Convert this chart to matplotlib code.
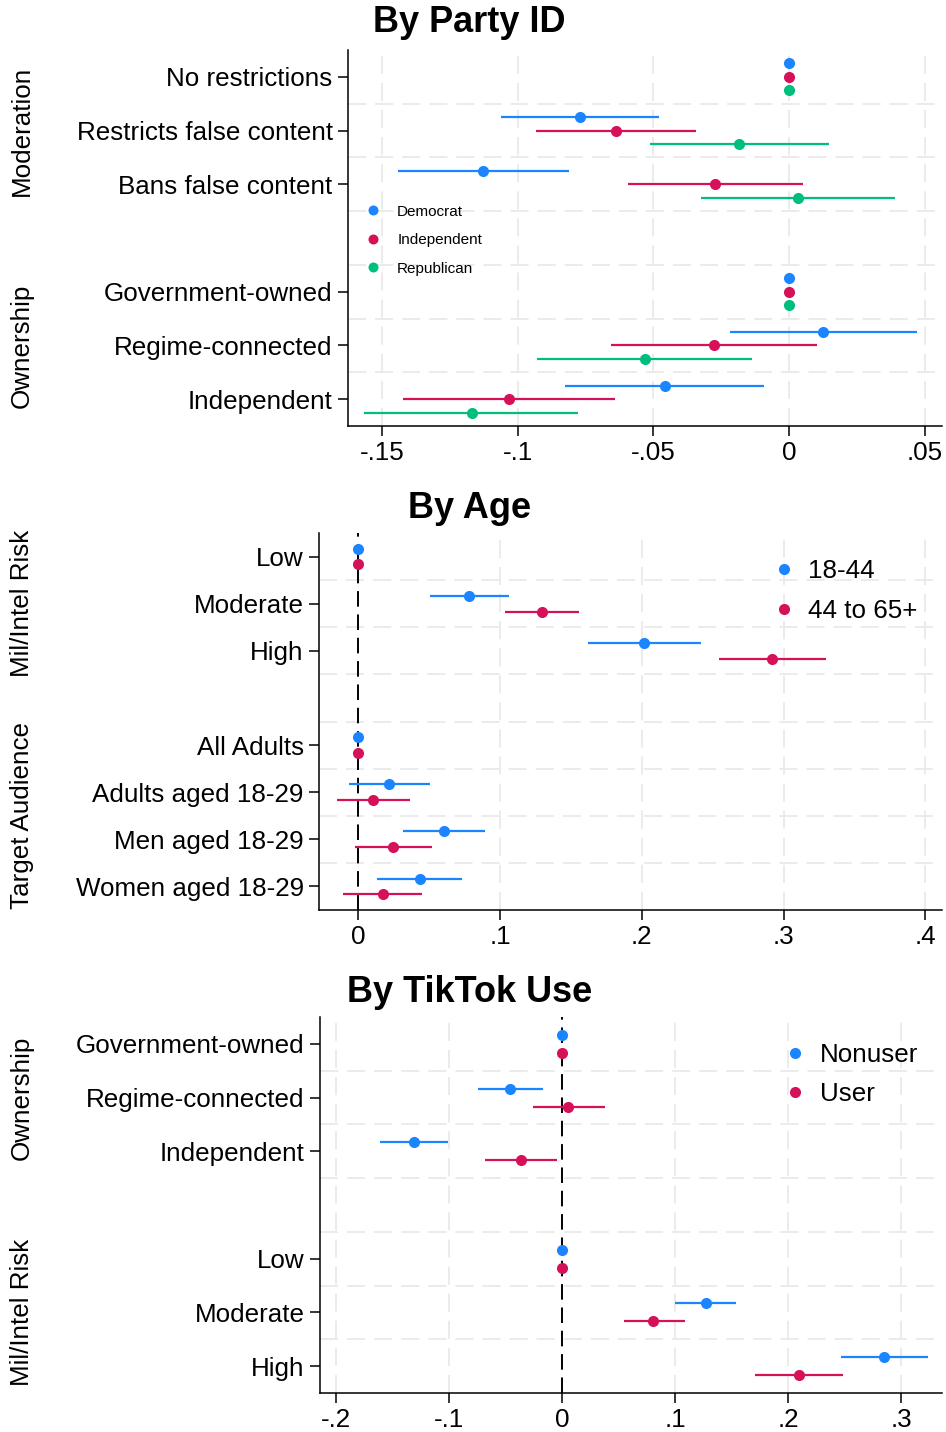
import matplotlib
matplotlib.use("Agg")
import matplotlib.pyplot as plt
from matplotlib.transforms import blended_transform_factory

plt.rcParams['font.family'] = ['Liberation Sans', 'DejaVu Sans']

BLUE = '#1A85FF'
RED = '#D41159'
GREEN = '#00BF7D'

# ---- By Party ID ----
party_groups = ["Moderation", "Ownership"]
party_rows = [["No restrictions", "Restricts false content", "Bans false content"],
              ["Government-owned", "Regime-connected", "Independent"]]
party_series = ["Democrat", "Independent", "Republican"]
dem_est = [0, -0.0772, -0.1128, 0, 0.0125, -0.0459]
dem_lo = [0, -0.1063, -0.1442, 0, -0.0218, -0.0827]
dem_hi = [0, -0.0479, -0.0810, 0, 0.0470, -0.0092]
ind_est = [0, -0.0638, -0.0272, 0, -0.0277, -0.1032]
ind_lo = [0, -0.0931, -0.0594, 0, -0.0656, -0.1424]
ind_hi = [0, -0.0344, 0.0052, 0, 0.0103, -0.0641]
rep_est = [0, -0.0185, 0.0032, 0, -0.0532, -0.1170]
rep_lo = [0, -0.0511, -0.0325, 0, -0.0928, -0.1566]
rep_hi = [0, 0.0145, 0.0389, 0, -0.0137, -0.0776]
party_xticks = [-0.15, -0.1, -0.05, 0, 0.05]
party_xlabels = ["-.15", "-.1", "-.05", "0", ".05"]

# ---- By Age ----
age_groups = ["Mil/Intel Risk", "Target Audience"]
age_rows = [["Low", "Moderate", "High"],
            ["All Adults", "Adults aged 18-29", "Men aged 18-29", "Women aged 18-29"]]
age_series = ["18-44", "44 to 65+"]
young_est = [0, 0.0782, 0.2017, 0, 0.0220, 0.0602, 0.0432]
young_lo = [0, 0.0506, 0.1619, 0, -0.0068, 0.0314, 0.0133]
young_hi = [0, 0.1065, 0.2418, 0, 0.0508, 0.0895, 0.0734]
old_est = [0, 0.1294, 0.2921, 0, 0.0107, 0.0246, 0.0172]
old_lo = [0, 0.1037, 0.2542, 0, -0.0153, -0.0023, -0.0107]
old_hi = [0, 0.1559, 0.3302, 0, 0.0367, 0.0517, 0.0452]
age_xticks = [0, 0.1, 0.2, 0.3, 0.4]
age_xlabels = ["0", ".1", ".2", ".3", ".4"]

# ---- By TikTok Use ----
tt_groups = ["Ownership", "Mil/Intel Risk"]
tt_rows = [["Government-owned", "Regime-connected", "Independent"],
           ["Low", "Moderate", "High"]]
tt_series = ["Nonuser", "User"]
non_est = [0, -0.0456, -0.1306, 0, 0.1270, 0.2850]
non_lo = [0, -0.0740, -0.1609, 0, 0.1000, 0.2466]
non_hi = [0, -0.0164, -0.1007, 0, 0.1537, 0.3235]
user_est = [0, 0.0057, -0.0363, 0, 0.0808, 0.2096]
user_lo = [0, -0.0256, -0.0680, 0, 0.0544, 0.1705]
user_hi = [0, 0.0377, -0.0046, 0, 0.1085, 0.2484]
tt_xticks = [-0.2, -0.1, 0, 0.1, 0.2, 0.3]
tt_xlabels = ["-.2", "-.1", "0", ".1", ".2", ".3"]

W, H = 946, 1432
FS = 18.7
fig = plt.figure(figsize=(W / 100, H / 100), dpi=100)


def px_axes(left, right, top, bottom):
    return fig.add_axes([left / W, 1 - bottom / H, (right - left) / W, (bottom - top) / H])


def panel(ax, groups, rows, series, colors, offs, xlim, xticks, xlabels, zero_line):
    # row positions: one empty slot between groups
    pos, labels, centers = [], [], []
    p = 1
    for g in rows:
        gp = []
        for r in g:
            pos.append(p)
            gp.append(p)
            labels.append(r)
            p += 1
        centers.append(sum(gp) / len(gp))
        p += 1
    n = p - 2
    ax.set_ylim(n + 0.5, 0.5)
    ax.set_xlim(*xlim)
    for k in range(1, n):
        ax.axhline(k + 0.5, color='#e9e9e9', lw=1.3, dashes=(10, 5), zorder=0)
    for t in xticks:
        if zero_line and t == 0:
            continue
        ax.axvline(t, color='#e9e9e9', lw=1.3, dashes=(10, 5), zorder=0)
    if zero_line:
        ax.axvline(0, color='black', lw=1.4, dashes=(8, 4), zorder=1)
    handles = []
    for (est, lo, hi), c, o in zip(series, colors, offs):
        ys = [y + o for y in pos]
        ax.hlines(ys, lo, hi, color=c, lw=1.6, zorder=2)
        h, = ax.plot(est, ys, 'o', color=c, ms=8, mec='none', zorder=3)
        handles.append(h)
    ax.set_yticks(pos)
    ax.set_yticklabels(labels, fontsize=FS)
    ax.set_xticks(xticks)
    ax.set_xticklabels(xlabels, fontsize=FS)
    ax.tick_params(axis='both', length=7, width=1.1, pad=4)
    for s in ['top', 'right']:
        ax.spines[s].set_visible(False)
    for s in ['left', 'bottom']:
        ax.spines[s].set_linewidth(1.1)
    tr = blended_transform_factory(fig.transFigure, ax.transData)
    for gname, cy in zip(groups, centers):
        ax.text(22 / W, cy, gname, transform=tr, rotation=90, ha='center',
                va='center', fontsize=FS)
    return handles


# top panel
ax1 = px_axes(348, 942, 50, 426)
h1 = panel(ax1, party_groups, party_rows,
           [(dem_est, dem_lo, dem_hi), (ind_est, ind_lo, ind_hi), (rep_est, rep_lo, rep_hi)],
           [BLUE, RED, GREEN], [-0.25, 0, 0.25], (-0.1625, 0.0563),
           party_xticks, party_xlabels, False)
ax1.legend(h1, party_series, loc='upper left', bbox_to_anchor=(361 / W, 1 - 197 / H),
           bbox_transform=fig.transFigure, frameon=False, fontsize=11, borderpad=0,
           handlelength=0.6, handletextpad=1.27, labelspacing=0.95, markerscale=0.9)

# middle panel
ax2 = px_axes(319, 942, 533, 910)
h2 = panel(ax2, age_groups, age_rows,
           [(young_est, young_lo, young_hi), (old_est, old_lo, old_hi)],
           [BLUE, RED], [-1 / 6, 1 / 6], (-0.0277, 0.4118),
           age_xticks, age_xlabels, True)
ax2.legend(h2, age_series, loc='upper left', bbox_to_anchor=(763 / W, 1 - 546 / H),
           bbox_transform=fig.transFigure, frameon=False, fontsize=FS, borderpad=0,
           handlelength=0.6, handletextpad=0.62, labelspacing=0.62, markerscale=1.0)

# bottom panel
ax3 = px_axes(320, 942, 1017, 1393)
h3 = panel(ax3, tt_groups, tt_rows,
           [(non_est, non_lo, non_hi), (user_est, user_lo, user_hi)],
           [BLUE, RED], [-1 / 6, 1 / 6], (-0.2141, 0.3361),
           tt_xticks, tt_xlabels, True)
ax3.legend(h3, tt_series, loc='upper left', bbox_to_anchor=(774 / W, 1 - 1030 / H),
           bbox_transform=fig.transFigure, frameon=False, fontsize=FS, borderpad=0,
           handlelength=0.6, handletextpad=0.66, labelspacing=0.58, markerscale=1.0)

for title, y in [("By Party ID", 22), ("By Age", 508), ("By TikTok Use", 992)]:
    fig.text(469.5 / W, 1 - y / H, title, ha='center', va='center',
             fontsize=26, fontweight='bold')

fig.savefig('out.png', dpi=100)
